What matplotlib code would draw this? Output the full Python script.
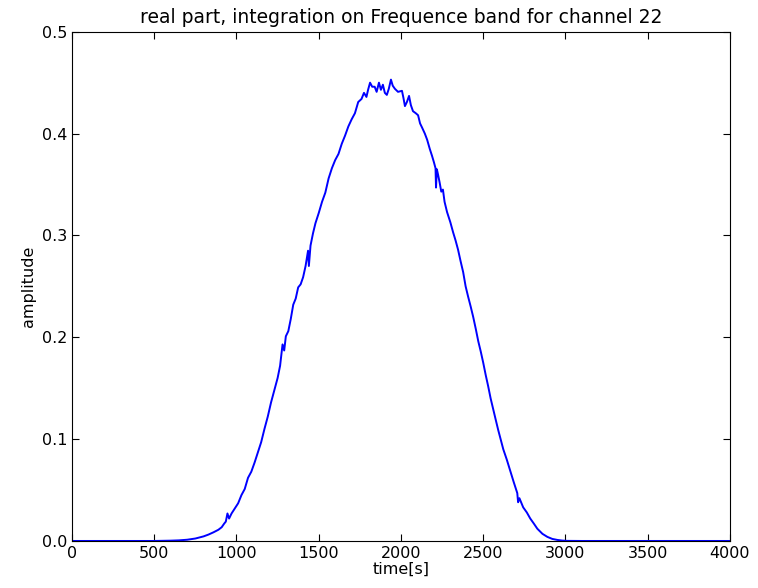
import matplotlib
matplotlib.use("Agg")
import matplotlib.pyplot as plt

# time [s] and amplitude
time = [0, 500, 600, 650, 700, 750, 800, 830, 860, 890, 910, 925, 935, 945, 955,
        970, 990, 1010, 1030, 1050, 1070, 1090, 1110, 1130, 1150, 1170, 1190,
        1210, 1230, 1250, 1265, 1280, 1290, 1300, 1315, 1330, 1345, 1360, 1375,
        1390, 1405, 1420, 1435, 1440, 1450, 1465, 1480, 1500, 1520, 1540, 1560,
        1580, 1600, 1620, 1640, 1660, 1680, 1700, 1720, 1740, 1760, 1775, 1790,
        1800, 1812, 1825, 1840, 1852, 1866, 1878, 1890, 1902, 1914, 1926, 1939,
        1950, 1963, 1982, 2006, 2015, 2024, 2036, 2049, 2060, 2073, 2090, 2104,
        2116, 2128, 2145, 2159, 2175, 2189, 2200, 2210, 2213, 2218, 2225, 2235,
        2245, 2255, 2265, 2280, 2300, 2317, 2332, 2347, 2362, 2378, 2393, 2408,
        2424, 2439, 2455, 2470, 2485, 2500, 2515, 2530, 2545, 2561, 2576, 2591,
        2606, 2622, 2643, 2664, 2685, 2707, 2712, 2720, 2743, 2765, 2786, 2808,
        2829, 2860, 2890, 2920, 2951, 2980, 3010, 3100, 4000]
amplitude = [0, 0, 0.0003, 0.0006, 0.0012, 0.0024, 0.0045, 0.0063, 0.0085, 0.011,
             0.0135, 0.017, 0.019, 0.027, 0.022, 0.027, 0.032, 0.037, 0.045,
             0.051, 0.062, 0.068, 0.077, 0.087, 0.097, 0.110, 0.122, 0.136,
             0.148, 0.160, 0.172, 0.193, 0.187, 0.201, 0.206, 0.218, 0.232,
             0.238, 0.249, 0.252, 0.259, 0.270, 0.285, 0.270, 0.290, 0.302,
             0.312, 0.322, 0.333, 0.342, 0.356, 0.366, 0.374, 0.380, 0.390,
             0.398, 0.407, 0.414, 0.420, 0.431, 0.434, 0.440, 0.436, 0.443,
             0.450, 0.446, 0.446, 0.441, 0.450, 0.443, 0.448, 0.440, 0.438,
             0.444, 0.453, 0.447, 0.444, 0.441, 0.442, 0.435, 0.427, 0.431,
             0.437, 0.428, 0.422, 0.420, 0.418, 0.410, 0.406, 0.400, 0.394,
             0.385, 0.378, 0.372, 0.366, 0.347, 0.365, 0.360, 0.352, 0.343,
             0.345, 0.333, 0.323, 0.313, 0.303, 0.295, 0.286, 0.275, 0.264,
             0.250, 0.240, 0.230, 0.220, 0.208, 0.196, 0.186, 0.175, 0.163,
             0.152, 0.140, 0.129, 0.119, 0.109, 0.100, 0.090, 0.080, 0.069,
             0.058, 0.047, 0.038, 0.042, 0.033, 0.028, 0.022, 0.017, 0.012,
             0.007, 0.004, 0.002, 0.001, 0.0004, 0.0001, 0, 0]

fig = plt.figure(figsize=(7.58, 5.88), dpi=100, facecolor="white")
ax = fig.add_axes([0.095, 0.080, 0.868, 0.866])
ax.plot(time, amplitude, color="blue", linewidth=1.4)

ax.set_xlim(0, 4000)
ax.set_ylim(0, 0.5)
ax.set_xticks(range(0, 4001, 500))
ax.set_yticks([0.0, 0.1, 0.2, 0.3, 0.4, 0.5])
ax.tick_params(direction="in", top=True, right=True, length=5, labelsize=11.5)
ax.set_xlabel("time[s]", fontsize=11.5, labelpad=1)
ax.set_ylabel("amplitude", fontsize=11.5)
ax.set_title("real part, integration on Frequence band for channel 22", fontsize=13.5)

fig.savefig("out.png", dpi=100, facecolor="white")
